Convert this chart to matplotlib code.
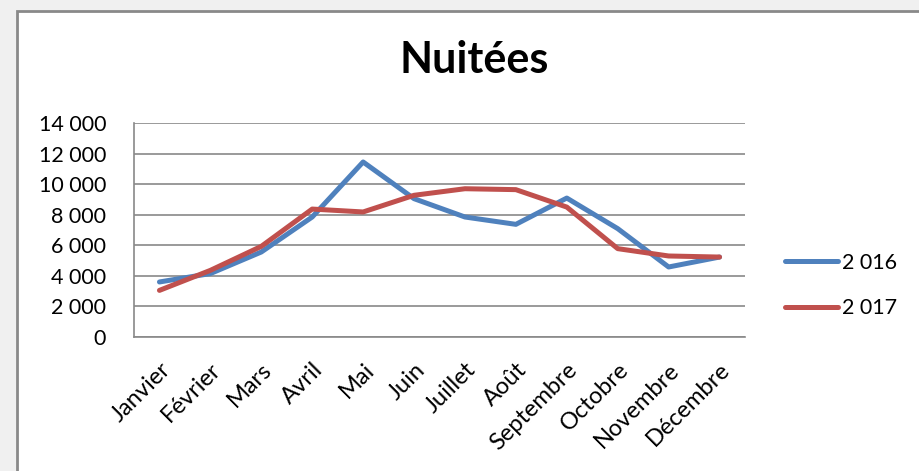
import matplotlib
matplotlib.use('Agg')
import matplotlib.pyplot as plt
from matplotlib.patches import Rectangle
from matplotlib.ticker import FuncFormatter
from matplotlib.transforms import ScaledTranslation

mois = ['Janvier', 'Février', 'Mars', 'Avril', 'Mai', 'Juin', 'Juillet', 'Août',
        'Septembre', 'Octobre', 'Novembre', 'Décembre']
nuitees_2016 = [3600, 4150, 5560, 7850, 11450, 9050, 7850, 7370, 9090, 7090, 4580, 5230]
nuitees_2017 = [3050, 4360, 5930, 8370, 8180, 9270, 9700, 9640, 8500, 5780, 5300, 5230]
series_labels = ['2 016', '2 017']

plt.rcParams['font.family'] = ['Lato', 'DejaVu Sans']

fig = plt.figure(figsize=(9.2, 4.71), dpi=100, facecolor='#f0f0f0')

# cadre blanc du graphique
W, H = 920, 471
fig.patches.append(Rectangle((17 / W, -0.1), 1.2, 1 - 11 / H + 0.1, transform=fig.transFigure,
                             facecolor='white', edgecolor='#898989', linewidth=2, zorder=-5))

ax = fig.add_axes([134 / W, 1 - 337 / H, (745 - 134) / W, (337 - 123) / H])
ax.set_facecolor('none')

x = range(len(mois))
ax.plot(x, nuitees_2016, color='#4F81BD', lw=3.6, solid_capstyle='round', label=series_labels[0])
ax.plot(x, nuitees_2017, color='#C0504D', lw=3.6, solid_capstyle='round', label=series_labels[1])

ax.set_xlim(-0.5, len(mois) - 0.5)
ax.set_ylim(0, 14000)
ax.set_yticks(range(0, 14001, 2000))
ax.yaxis.set_major_formatter(FuncFormatter(lambda v, p: f'{int(v):,}'.replace(',', ' ')))
ax.yaxis.grid(True, color='#898989', lw=1.2)
ax.set_axisbelow(True)

for s in ['top', 'right']:
    ax.spines[s].set_visible(False)
for s in ['left', 'bottom']:
    ax.spines[s].set_color('#898989')
    ax.spines[s].set_linewidth(1.2)

ax.set_xticks(list(x))
ax.set_xticklabels(mois, rotation=45, ha='right', rotation_mode='anchor')
# petit décalage vers la droite des étiquettes
decal = ScaledTranslation(5 / 100, 0, fig.dpi_scale_trans)
for lbl in ax.get_xticklabels():
    lbl.set_transform(lbl.get_transform() + decal)
ax.tick_params(axis='y', length=0, pad=20, labelsize=15.5)
ax.tick_params(axis='x', length=0, pad=16, labelsize=17)

fig.text(474 / W, 1 - 60 / H, 'Nuitées', ha='center', va='center',
         fontsize=31, fontweight='bold')

ax.legend(loc='center left', bbox_to_anchor=(776 / W, 1 - 285.5 / H),
          bbox_transform=fig.transFigure, frameon=False, fontsize=15.5,
          handlelength=2.5, handletextpad=0.15, labelspacing=1.2, borderaxespad=0)

fig.savefig('out.png', dpi=100, facecolor=fig.get_facecolor())
